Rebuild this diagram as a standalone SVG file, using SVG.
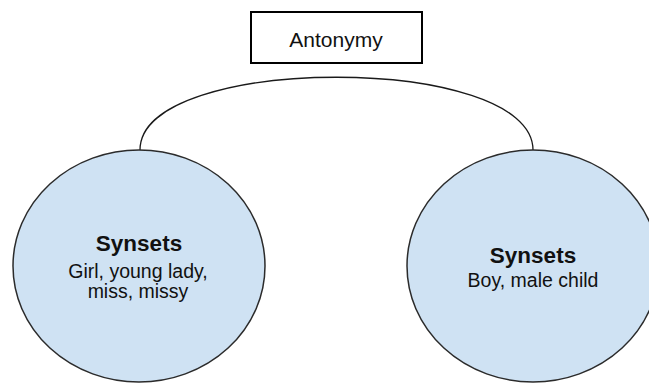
<svg xmlns="http://www.w3.org/2000/svg" width="649" height="383" viewBox="0 0 649 383">
<style>
.node{fill:#cfe2f3;stroke:#2b2b2b;stroke-width:1.5}
.box{fill:#ffffff;stroke:#000000;stroke-width:2}
.edge{fill:none;stroke:#1a1a1a;stroke-width:1.3}
text{font-family:"Liberation Sans",Arial,sans-serif;fill:#111111;text-anchor:middle}
.title{font-size:22.5px;font-weight:bold}
.body{font-size:19.5px}
.label{font-size:21px}
</style>
<rect width="649" height="383" fill="#ffffff"/>
<g id="connectors">
<path class="edge" d="M140,150 C140,53 533,53 533,150"/>
</g>
<g id="antonymy">
<rect class="box" x="251" y="12" width="171" height="51"/>
<text class="label" x="336" y="47">Antonymy</text>
</g>
<g id="synset-girl">
<ellipse class="node" cx="139" cy="266" rx="126" ry="116"/>
<text class="title" x="139" y="251">Synsets</text>
<text class="body" x="138" y="278">Girl, young lady,</text>
<text class="body" x="138" y="298">miss, missy</text>
</g>
<g id="synset-boy">
<ellipse class="node" cx="533" cy="266" rx="126" ry="116"/>
<text class="title" x="533" y="263">Synsets</text>
<text class="body" x="533" y="287">Boy, male child</text>
</g>
</svg>
